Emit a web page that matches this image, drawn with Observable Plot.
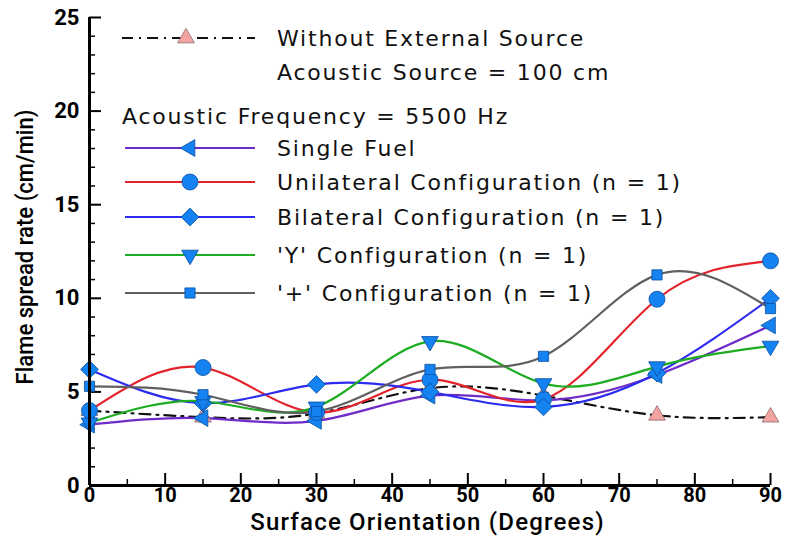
<!DOCTYPE html>
<html>
<head>
<meta charset="utf-8">
<script src="https://cdn.jsdelivr.net/npm/d3@7"></script>
<script src="https://cdn.jsdelivr.net/npm/@observablehq/plot@0.6"></script>
<style>
  body { margin: 0; background: #fff; }
  #chart svg { display: block; }
</style>
</head>
<body>
<div id="chart"></div>
<script>
// Surface orientation (degrees) at which flame spread was measured
const angles = [0, 15, 30, 45, 60, 75, 90];

// Flame spread rate (cm/min)
const withoutSource = [4.0, 3.65, 3.85, 5.2, 4.8, 3.75, 3.65];
const singleFuel    = [3.25, 3.6, 3.45, 4.8, 4.55, 5.9, 8.55];
const unilateral    = [4.0, 6.3, 3.9, 5.65, 4.6, 9.95, 12.0];
const bilateral     = [6.2, 4.4, 5.4, 5.0, 4.2, 6.0, 10.0];
const yConfig       = [3.35, 4.5, 4.2, 7.7, 5.45, 6.35, 7.45];
const plusConfig    = [5.3, 4.85, 3.95, 6.2, 6.9, 11.25, 9.45];

const xTicks = [0, 10, 20, 30, 40, 50, 60, 70, 80, 90];
const xMinor = [5, 15, 25, 35, 45, 55, 65, 75, 85];
const yTicks = [0, 5, 10, 15, 20, 25];
const yMinor = d3.range(1, 25).filter(v => v % 5 !== 0);

const legendNote1 = "Acoustic Source = 100 cm";
const legendNote2 = "Acoustic Frequency = 5500 Hz";
const baselineName = "Without External Source";

const markerFill = "#1582f2";
const markerStroke = "#0b4fa0";

const series = [
  {name: "Single Fuel",                     values: singleFuel, color: "#6f2bc8", symbol: "triangle2", rotate: -90},
  {name: "Unilateral Configuration (n = 1)", values: unilateral, color: "#e3232b", symbol: "circle",    rotate: 0},
  {name: "Bilateral Configuration (n = 1)",  values: bilateral,  color: "#2b2cf0", symbol: "diamond2",  rotate: 0},
  {name: "'Y' Configuration (n = 1)",        values: yConfig,    color: "#1eac22", symbol: "triangle2", rotate: 180},
  {name: "'+' Configuration (n = 1)",        values: plusConfig, color: "#606060", symbol: "square2",   rotate: 0}
];

const rows = vals => angles.map((a, i) => ({angle: a, rate: vals[i]}));
const baseline = rows(withoutSource);

const W = 788, H = 539;
const mL = 89, mR = 18, mT = 17, mB = 54;
const innerW = W - mL - mR, innerH = H - mT - mB;

const marks = [];

// axis labels (ticks are drawn as inward tick marks below)
marks.push(Plot.axisX(xTicks, {tickSize: 0, tickPadding: 2, fontSize: 20, fontWeight: 700, fontFamily: "Roboto", label: null}));
marks.push(Plot.axisY(yTicks, {tickSize: 0, tickPadding: 10, fontSize: 22, fontWeight: 700, fontFamily: "Roboto", label: null}));

// inward ticks
marks.push(Plot.tickX(xTicks, {x: d => d, insetTop: innerH - 12, stroke: "black", strokeWidth: 2}));
marks.push(Plot.tickX(xMinor, {x: d => d, insetTop: innerH - 6, stroke: "black", strokeWidth: 1.5}));
marks.push(Plot.tickY(yTicks, {y: d => d, insetRight: innerW - 12, stroke: "black", strokeWidth: 2}));
marks.push(Plot.tickY(yMinor, {y: d => d, insetRight: innerW - 6, stroke: "black", strokeWidth: 1.5}));

// baseline without acoustic excitation
marks.push(Plot.line(baseline, {x: "angle", y: "rate", curve: "natural", stroke: "#111", strokeWidth: 2.2, strokeDasharray: "11,6,2,6"}));

for (const s of series) {
  marks.push(Plot.line(rows(s.values), {x: "angle", y: "rate", curve: "natural", stroke: s.color, strokeWidth: 2.2}));
}
marks.push(Plot.dot(baseline, {x: "angle", y: "rate", symbol: "triangle2", r: 8, fill: "#f4a3a3", stroke: "#8a6a6a", strokeWidth: 0.8}));
for (const s of series) {
  marks.push(Plot.dot(rows(s.values), {x: "angle", y: "rate", symbol: s.symbol, rotate: s.rotate,
    r: s.symbol === "square2" ? 6.5 : 8, fill: markerFill, stroke: markerStroke, strokeWidth: 0.8}));
}

// axis lines
marks.push(Plot.ruleX([0], {stroke: "black", strokeWidth: 3}));
marks.push(Plot.ruleY([0], {stroke: "black", strokeWidth: 3}));

const plot = Plot.plot({
  width: W, height: H,
  marginLeft: mL, marginRight: mR, marginTop: mT, marginBottom: mB,
  x: {domain: [0, 90]},
  y: {domain: [0, 25]},
  style: {background: "white", overflow: "visible"},
  marks
});

const svg = d3.select(plot);

// axis titles
svg.append("text")
  .attr("x", mL + innerW / 2 - 2).attr("y", H - 9)
  .attr("text-anchor", "middle")
  .style("font", "500 24px Roboto")
  .style("letter-spacing", "1.2px")
  .text("Surface Orientation (Degrees)");
svg.append("text")
  .attr("transform", `translate(27,${mT + innerH / 2 - 4}) rotate(-90) scale(0.92,1)`)
  .attr("text-anchor", "middle")
  .attr("dominant-baseline", "middle")
  .style("font", "500 24px Roboto")
  .text("Flame spread rate (cm/min)");

// legend
const lg = svg.append("g")
  .attr("text-anchor", "start")
  .style("font", "22px 'DejaVu Sans'")
  .style("letter-spacing", "1.8px")
  .attr("fill", "#111");
const textX = 277;
const symbolFor = name => ({circle: d3.symbolCircle, diamond2: d3.symbolDiamond2, square2: d3.symbolSquare2, triangle2: d3.symbolTriangle2})[name];

function legendRow(y, label, color, symbolName, rotate, fill, stroke, dash, x0, sx) {
  lg.append("line").attr("x1", x0).attr("x2", 255).attr("y1", y).attr("y2", y)
    .attr("stroke", color).attr("stroke-width", 2.2).attr("stroke-dasharray", dash);
  const r = symbolName === "square2" ? 6.5 : 8;
  lg.append("path").attr("d", d3.symbol(symbolFor(symbolName), Math.PI * r * r)())
    .attr("transform", `translate(${sx},${y}) rotate(${rotate})`)
    .attr("fill", fill).attr("stroke", stroke).attr("stroke-width", 0.8);
  lg.append("text").attr("x", textX).attr("y", y).attr("dy", "0.36em").text(label);
}

legendRow(38, baselineName, "#111", "triangle2", 0, "#f4a3a3", "#8a6a6a", "11,6,2,6", 122, 186);
lg.append("text").attr("x", textX).attr("y", 72).attr("dy", "0.36em").text(legendNote1);
lg.append("text").attr("x", 122).attr("y", 116).attr("dy", "0.36em").text(legendNote2);
const rowY = [148, 182, 217, 255, 293];
series.forEach((s, i) => legendRow(rowY[i], s.name, s.color, s.symbol, s.rotate, markerFill, markerStroke, null, 125, 190));

document.getElementById("chart").append(plot);
</script>
</body>
</html>
